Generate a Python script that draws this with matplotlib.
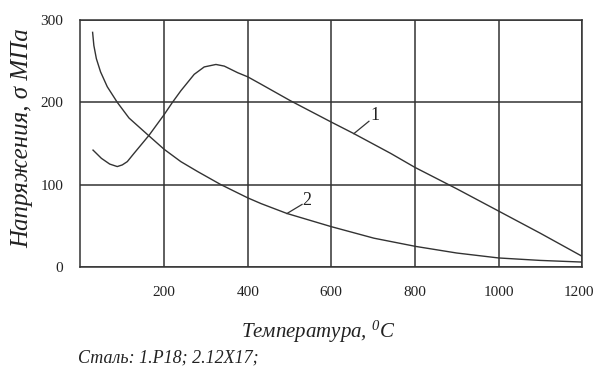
import matplotlib
matplotlib.use("Agg")
import matplotlib.pyplot as plt
import matplotlib.transforms as mtransforms

# Curve 1: steel Р18
t1 = [30, 50, 70, 88, 100, 112, 128, 164, 200, 220, 240, 272, 296, 324, 344,
      376, 400, 432, 502, 600, 654, 742, 800, 900, 1000, 1100, 1200]
s1 = [142, 132, 125, 122, 124, 128, 138, 160, 185, 200, 214, 234, 243, 246, 244,
      236, 231, 222, 202, 176, 162, 138, 121, 95, 68, 41, 13]

# Curve 2: steel 12Х17
t2 = [29, 32, 38, 48, 64, 88, 116, 160, 200, 240, 280, 336,
      400, 432, 494, 600, 702, 802, 900, 1000, 1100, 1200]
s2 = [285, 269, 253, 237, 219, 200, 181, 161, 143, 128,
      116, 100, 84, 77, 65, 49, 35, 25, 17, 11, 8, 6]

xticks = [200, 400, 600, 800, 1000, 1200]
yticks = [0, 100, 200, 300]

plt.rcParams['font.family'] = ['Liberation Serif', 'DejaVu Serif']
plt.rcParams['mathtext.fontset'] = 'custom'
plt.rcParams['mathtext.rm'] = 'Liberation Serif:italic'
plt.rcParams['mathtext.it'] = 'Liberation Serif:italic'

fig = plt.figure(figsize=(5.94, 3.69), dpi=100)
ax = fig.add_axes([0.1355, 0.2764, 0.8445, 0.6694])
col = '#333333'
tcol = '#222222'

ax.plot(t1, s1, color=col, lw=1.0)
ax.plot(t2, s2, color=col, lw=1.0)

ax.set_xlim(0, 1200)
ax.set_ylim(0, 300)
ax.set_xticks(xticks)
ax.set_yticks(yticks)
ax.grid(True, color=col, lw=1.1)
for sp in ax.spines.values():
    sp.set_color(col)
    sp.set_linewidth(1.1)
ax.tick_params(length=0, labelsize=11, colors=tcol)
ax.tick_params(axis='x', pad=14)
ax.tick_params(axis='y', pad=12.5)

# nudge the last x tick label slightly left so it stays inside the figure
last = ax.get_xticklabels()[-1]
last.set_transform(last.get_transform() +
                   mtransforms.ScaledTranslation(-3 / 100, 0, fig.dpi_scale_trans))

# curve labels with leader lines
ax.plot([654, 690], [162, 177], color=col, lw=0.9)
ax.text(693, 174, '1', fontsize=13, ha='left', va='bottom', color=tcol)
ax.plot([494, 530], [65, 76], color=col, lw=0.9)
ax.text(530, 71, '2', fontsize=13, ha='left', va='bottom', color=tcol)

fig.text(22 / 594, 0.625, 'Напряжения, σ МПа', fontsize=18, style='italic',
         rotation=90, ha='center', va='center', color=tcol)
fig.text(0.535, 0.100, 'Температура, $^{0}C$', fontsize=15, style='italic',
         ha='center', va='center', color=tcol)
fig.text(0.131, 0.030, 'Сталь: 1.Р18; 2.12Х17;', fontsize=13, style='italic',
         ha='left', va='center', color=tcol)

fig.savefig('out.png', dpi=100)
